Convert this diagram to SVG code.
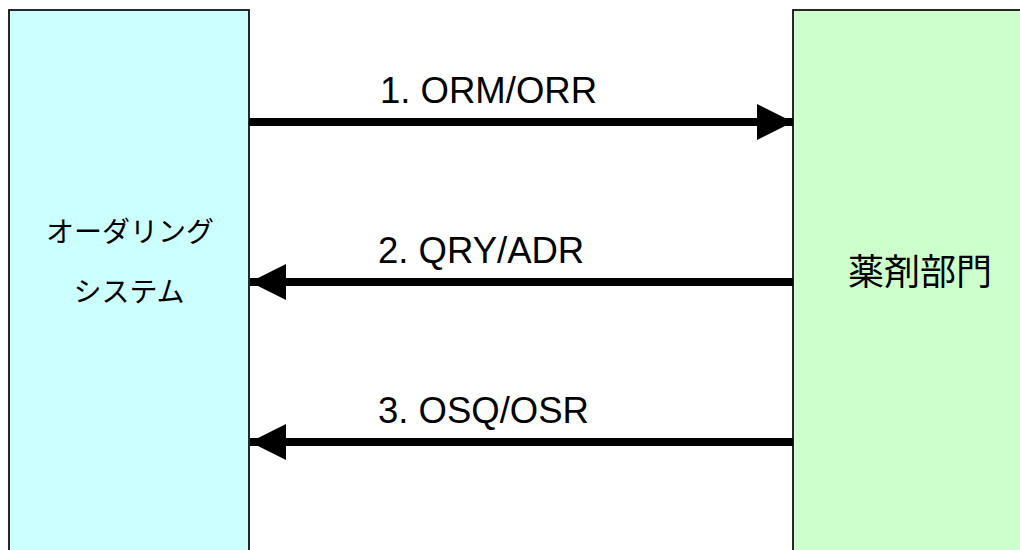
<svg xmlns="http://www.w3.org/2000/svg" width="1020" height="550" viewBox="0 0 1020 550">
<style>
.box{stroke:#111;stroke-width:1.8}
.lbl{font-family:"Liberation Sans",Arial,sans-serif;font-size:36.5px;fill:#000}
.jp{font-family:"Noto Sans CJK JP","Liberation Sans",sans-serif;fill:#000;text-anchor:middle}
.conn{stroke:#000;stroke-width:8;fill:none}
</style>
<defs>
<marker id="ah" markerUnits="userSpaceOnUse" markerWidth="36" markerHeight="36" refX="36" refY="18" orient="auto" viewBox="0 0 36 36">
<path d="M0,0 L36,18 L0,36 Z" fill="#000"/>
</marker>
</defs>
<rect width="1020" height="550" fill="#fff"/>
<g id="ordering">
<rect class="box" x="9" y="10" width="240" height="560" fill="#ccffff"/>
<text class="jp" x="130" y="242" font-size="28">オーダリング</text>
<text class="jp" x="129" y="302" font-size="28">システム</text>
</g>
<g id="pharmacy">
<rect class="box" x="793" y="10" width="260" height="560" fill="#ccffcc"/>
<text class="jp" x="920" y="285" font-size="36">薬剤部門</text>
</g>
<g id="connectors">
<line class="conn" x1="249" y1="122" x2="793" y2="122" marker-end="url(#ah)"/>
<line class="conn" x1="793" y1="282" x2="250" y2="282" marker-end="url(#ah)"/>
<line class="conn" x1="793" y1="442" x2="250" y2="442" marker-end="url(#ah)"/>
<text class="lbl" x="380" y="103">1. ORM/ORR</text>
<text class="lbl" x="378" y="263">2. QRY/ADR</text>
<text class="lbl" x="378" y="423">3. OSQ/OSR</text>
</g>
</svg>
